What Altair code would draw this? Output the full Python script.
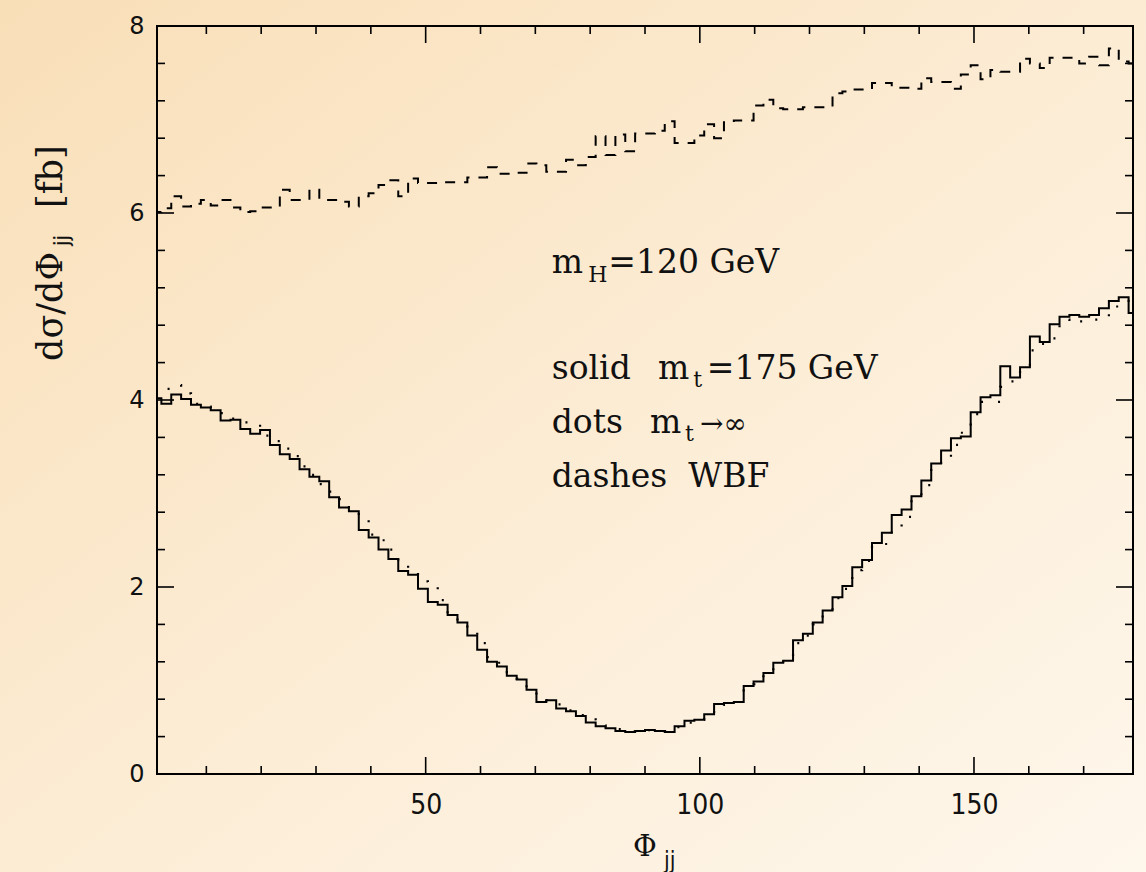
import altair as alt
import pandas as pd

# ---- data (100 bins of 1.8 degrees) ----
bin_width = 1.8
solid_vals = [
    4.02, 3.96, 4.06, 4.01, 3.95, 3.92, 3.89, 3.78, 3.79, 3.69,
    3.64, 3.68, 3.52, 3.42, 3.37, 3.26, 3.18, 3.13, 2.96, 2.85,
    2.81, 2.61, 2.53, 2.40, 2.30, 2.17, 2.13, 1.98, 1.84, 1.81,
    1.70, 1.62, 1.48, 1.33, 1.20, 1.15, 1.05, 1.01, 0.90, 0.77,
    0.79, 0.70, 0.67, 0.62, 0.55, 0.51, 0.49, 0.46, 0.45, 0.46,
    0.47, 0.46, 0.45, 0.51, 0.57, 0.58, 0.64, 0.75, 0.76, 0.77,
    0.94, 0.99, 1.08, 1.19, 1.21, 1.43, 1.50, 1.62, 1.75, 1.89,
    2.01, 2.21, 2.29, 2.47, 2.58, 2.77, 2.83, 2.97, 3.14, 3.32,
    3.46, 3.59, 3.61, 3.87, 4.03, 4.05, 4.36, 4.24, 4.35, 4.68,
    4.62, 4.81, 4.89, 4.91, 4.89, 4.91, 4.98, 5.06, 5.10, 4.93,
]
dots_vals = [
    4.11, 4.12, 4.16, 4.07, 3.96, 3.93, 3.90, 3.86, 3.80, 3.76,
    3.75, 3.62, 3.56, 3.48, 3.40, 3.29, 3.20, 3.10, 3.02, 2.94,
    2.82, 2.74, 2.56, 2.50, 2.40, 2.25, 2.17, 2.06, 2.00, 1.86,
    1.68, 1.60, 1.50, 1.40, 1.25, 1.19, 1.09, 1.02, 0.92, 0.80,
    0.79, 0.745, 0.68, 0.63, 0.585, 0.52, 0.49, 0.48, 0.45, 0.45,
    0.47, 0.46, 0.46, 0.50, 0.55, 0.58, 0.62, 0.70, 0.74, 0.77,
    0.92, 0.96, 1.06, 1.18, 1.20, 1.40, 1.48, 1.60, 1.73, 1.88,
    1.98, 2.18, 2.28, 2.46, 2.46, 2.63, 2.75, 2.93, 3.09, 3.28,
    3.39, 3.52, 3.65, 3.85, 3.98, 3.98, 4.14, 4.20, 4.36, 4.53,
    4.60, 4.66, 4.86, 4.82, 4.84, 4.86, 4.88, 5.00, 5.06, 5.06,
]
dash_vals = [
    6.01, 6.05, 6.18, 6.07, 6.10, 6.14, 6.08, 6.14, 6.06, 6.01,
    6.02, 6.06, 6.06, 6.25, 6.14, 6.14, 6.25, 6.14, 6.14, 6.12,
    6.07, 6.18, 6.21, 6.30, 6.35, 6.18, 6.37, 6.32, 6.32, 6.33,
    6.33, 6.33, 6.38, 6.38, 6.49, 6.42, 6.42, 6.43, 6.53, 6.51,
    6.44, 6.44, 6.57, 6.51, 6.60, 6.82, 6.62, 6.84, 6.66, 6.85,
    6.85, 6.88, 6.98, 6.75, 6.75, 6.83, 6.95, 6.80, 6.97, 6.99,
    6.99, 7.15, 7.21, 7.12, 7.11, 7.11, 7.13, 7.13, 7.13, 7.28,
    7.30, 7.32, 7.32, 7.39, 7.39, 7.34, 7.34, 7.33, 7.44, 7.40,
    7.40, 7.33, 7.48, 7.58, 7.43, 7.53, 7.51, 7.51, 7.65, 7.60,
    7.55, 7.66, 7.66, 7.66, 7.60, 7.67, 7.58, 7.76, 7.62, 7.60,
]
x_major = [50, 100, 150]
x_minor = [10, 20, 30, 40, 60, 70, 80, 90, 110, 120, 130, 140, 160, 170]
y_major = [2, 4, 6]
y_minor = [0.4, 0.8, 1.2, 1.6, 2.4, 2.8, 3.2, 3.6, 4.4, 4.8, 5.2, 5.6,
           6.4, 6.8, 7.2, 7.6]
y_labels = [0, 2, 4, 6, 8]

rows = []
for name, vals in (("solid", solid_vals), ("dots", dots_vals), ("dash", dash_vals)):
    n = len(vals)
    for i in range(n + 1):
        rows.append({"phi": round(i * bin_width, 2), "val": vals[min(i, n - 1)], "series": name})
df = pd.DataFrame(rows)

# annotation text inside the plot (data coordinates)
ann = pd.DataFrame([
    {"x": 72.99, "y": 5.355, "t": "m", "s": 33},
    {"x": 79.66, "y": 5.265, "t": "H", "s": 22},
    {"x": 83.31, "y": 5.355, "t": "=120 GeV", "s": 33},
    {"x": 72.99, "y": 4.221, "t": "solid", "s": 33},
    {"x": 92.37, "y": 4.221, "t": "m", "s": 33},
    {"x": 98.81, "y": 4.142, "t": "t", "s": 22},
    {"x": 101.26, "y": 4.221, "t": "=175 GeV", "s": 33},
    {"x": 72.99, "y": 3.644, "t": "dots", "s": 33},
    {"x": 90.91, "y": 3.644, "t": "m", "s": 33},
    {"x": 97.30, "y": 3.565, "t": "t", "s": 22},
    {"x": 100.04, "y": 3.644, "t": "→∞", "s": 28},
    {"x": 72.99, "y": 3.073, "t": "dashes", "s": 33},
    {"x": 97.90, "y": 3.073, "t": "WBF", "s": 33},
])

W, H = 976, 748
PAD = {"left": 157, "top": 26, "right": 13, "bottom": 98}
NARROW = "Liberation Sans Narrow, DejaVu Sans Condensed, Liberation Sans"

xs = alt.Scale(domain=[1, 179], nice=False, zero=False)
ys = alt.Scale(domain=[0, 8], nice=False, zero=False)
xaxis = alt.Axis(values=x_major, ticks=False, domain=False, grid=False, title=None,
                 labelFont=NARROW, labelFontSize=28, labelPadding=17,
                 labelColor="#111111", zindex=2)
yaxis = alt.Axis(values=y_labels, ticks=False, domain=False, grid=False, title=None,
                 labelFont="DejaVu Sans", labelFontSize=24, labelPadding=13,
                 labelColor="#111111", zindex=2)

def X(field):
    return alt.X(field, scale=xs, axis=xaxis)

def Y(field):
    return alt.Y(field, scale=ys, axis=yaxis)

gradient = {
    "gradient": "linear", "x1": 0, "y1": 0, "x2": 1, "y2": 1,
    "stops": [
        {"offset": 0, "color": "#F9DFB8"},
        {"offset": 0.5, "color": "#FCECD4"},
        {"offset": 1, "color": "#FEF7EC"},
    ],
}
bg = alt.Chart(pd.DataFrame({"a": [0]})).mark_rect(fill=gradient, clip=False).encode(
    x=alt.value(-PAD["left"]), x2=alt.value(W + PAD["right"]),
    y=alt.value(-PAD["top"]), y2=alt.value(H + PAD["bottom"]),
)

base = alt.Chart(df).encode(x=X("phi:Q"), y=Y("val:Q"))
solid = base.transform_filter(alt.datum.series == "solid").mark_line(
    interpolate="step-after", color="black", strokeWidth=2, clip=True)
dots = base.transform_filter(alt.datum.series == "dots").mark_line(
    interpolate="step-after", color="black", strokeWidth=2.2, strokeDash=[2, 15], clip=True)
dash = base.transform_filter(alt.datum.series == "dash").mark_line(
    interpolate="step-after", color="black", strokeWidth=2, strokeDash=[10, 9], clip=True)

frame = alt.Chart(pd.DataFrame({"a": [0]})).mark_rect(
    fillOpacity=0, stroke="black", strokeWidth=2).encode(
    x=alt.value(0), x2=alt.value(W), y=alt.value(0), y2=alt.value(H))

def xticks(vals, L):
    d = pd.DataFrame({"t": vals})
    b = alt.Chart(d).mark_rule(color="black", strokeWidth=1.6)
    return [
        b.encode(x=X("t:Q"), y=alt.value(H), y2=alt.value(H - L)),
        b.encode(x=X("t:Q"), y=alt.value(0), y2=alt.value(L)),
    ]

def yticks(vals, L):
    d = pd.DataFrame({"t": vals})
    b = alt.Chart(d).mark_rule(color="black", strokeWidth=1.6)
    return [
        b.encode(y=Y("t:Q"), x=alt.value(0), x2=alt.value(L)),
        b.encode(y=Y("t:Q"), x=alt.value(W), x2=alt.value(W - L)),
    ]

tick_layers = xticks(x_major, 17) + xticks(x_minor, 8) + yticks(y_major, 17) + yticks(y_minor, 8)

annot = alt.Chart(ann).mark_text(
    align="left", baseline="alphabetic", font="DejaVu Serif", color="#111111").encode(
    x=X("x:Q"), y=Y("y:Q"), text="t:N", size=alt.Size("s:Q", scale=None, legend=None))

def label(txt, px, py, size, angle=0, font="DejaVu Serif"):
    kw = dict(align="left", baseline="alphabetic", font=font, fontSize=size, color="#111111")
    if angle:
        kw["angle"] = angle
    return alt.Chart(pd.DataFrame({"t": [txt]})).mark_text(**kw).encode(
        x=alt.value(px), y=alt.value(py), text="t:N")

titles = [
    label("dσ/dΦ", -95, 335, 35, angle=270),
    label("jj", -88, 220, 22, angle=270, font=NARROW),
    label("[fb]", -95, 182, 35, angle=270),
    label("Φ", 476, 830, 29),
    label("jj", 507, 842, 23, font=NARROW),
]

chart = alt.layer(bg, solid, dots, dash, frame, *tick_layers, annot, *titles).properties(
    width=W, height=H,
    autosize=alt.AutoSizeParams(type="none"),
    padding=PAD,
    background="#FCECD4",
).configure_view(stroke=None)

chart.save("out.html", embed_options={"renderer": "svg", "actions": False})
